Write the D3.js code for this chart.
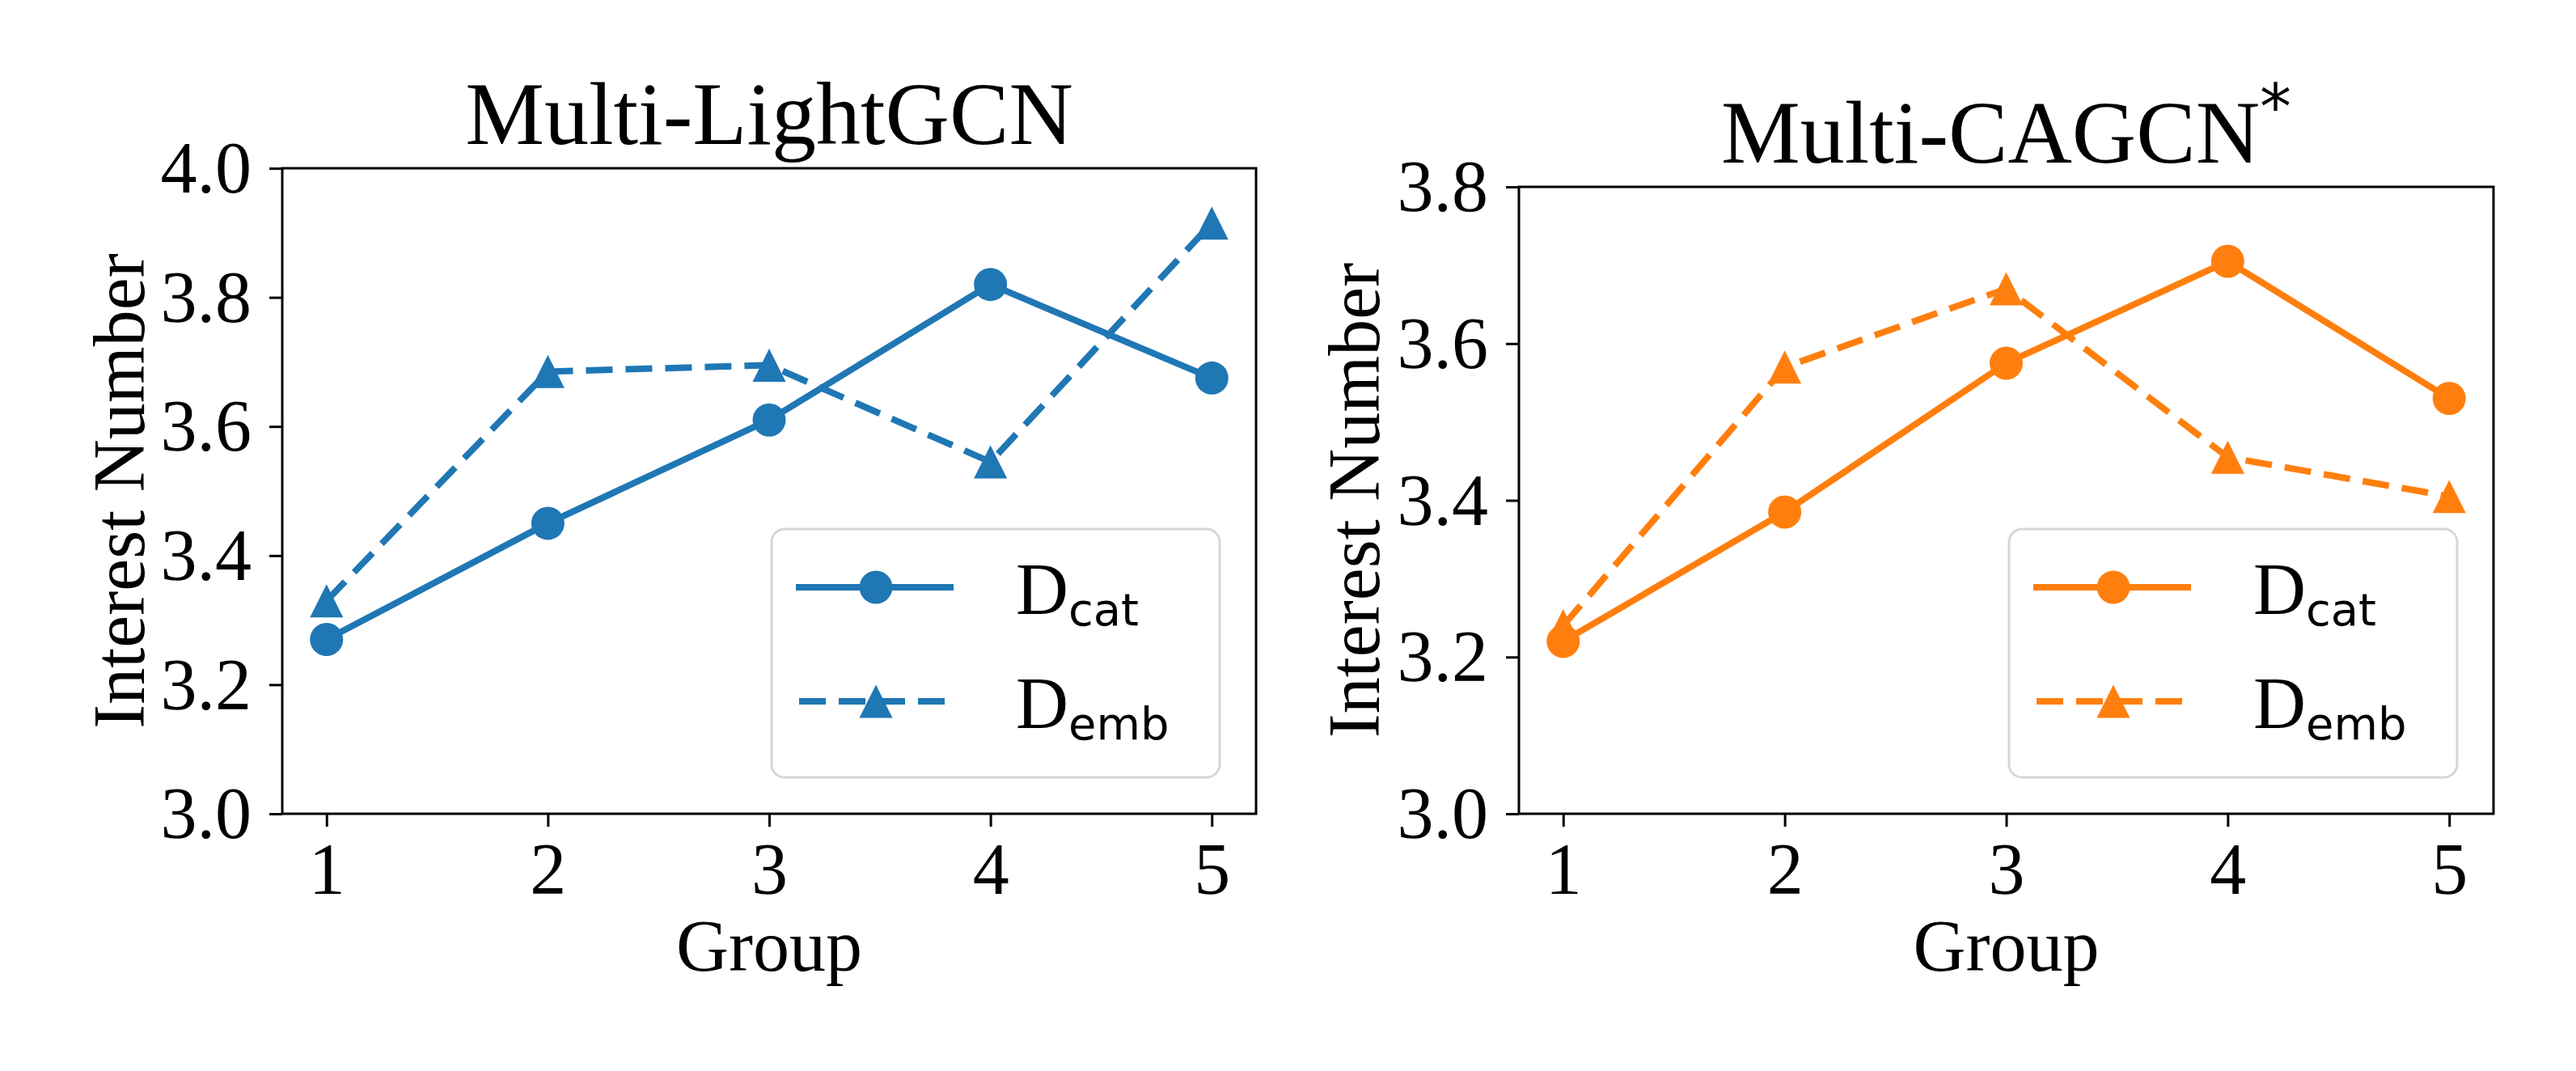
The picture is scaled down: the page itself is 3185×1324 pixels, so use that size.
<!DOCTYPE html>
<html>
<head>
<meta charset="utf-8">
<script src="https://cdn.jsdelivr.net/npm/d3@7"></script>
<style>
  html, body { margin: 0; padding: 0; background: #fff; }
  svg { display: block; }
</style>
</head>
<body>
<svg id="chart" width="3185" height="1324"></svg>
<script>
// Data
// ----
var groups = [1, 2, 3, 4, 5];
var lightgcnCat = [3.27, 3.45, 3.61, 3.82, 3.675];
var lightgcnEmb = [3.33, 3.685, 3.695, 3.545, 3.915];
var cagcnCat = [3.22, 3.385, 3.575, 3.705, 3.53];
var cagcnEmb = [3.24, 3.57, 3.67, 3.455, 3.405];
var lightgcnTicks = [3.0, 3.2, 3.4, 3.6, 3.8, 4.0];
var cagcnTicks = [3.0, 3.2, 3.4, 3.6, 3.8];

var serif = '"Liberation Serif", "Times New Roman", serif';
var sans = '"DejaVu Sans", sans-serif';
var dash = '33,16';

var svg = d3.select('#chart');

// one panel per model
function panel(opts) {
  var x = d3.scaleLinear().domain([0.8, 5.2]).range([opts.left, opts.right]);
  var y = d3.scaleLinear().domain(opts.yDomain).range([opts.bottom, opts.top]);
  var g = svg.append('g');

  // axes
  var xAxis = d3.axisBottom(x).tickValues(groups).tickFormat(d3.format('d')).tickSize(16).tickPadding(18);
  var yAxis = d3.axisLeft(y).tickValues(opts.ticks).tickFormat(d3.format('.1f')).tickSize(16).tickPadding(22);

  var gx = g.append('g').attr('transform', 'translate(0,' + opts.bottom + ')').call(xAxis);
  var gy = g.append('g').attr('transform', 'translate(' + opts.left + ',0)').call(yAxis);
  [gx, gy].forEach(function (a) {
    a.select('.domain').remove();
    a.selectAll('.tick line').attr('stroke', '#000').attr('stroke-width', 3);
    a.selectAll('.tick text')
     .attr('font-family', serif)
     .attr('font-size', '90px')
     .attr('fill', '#000');
  });
  gy.selectAll('.tick text').attr('dy', '0.33em');
  gx.selectAll('.tick text').attr('dy', '0.72em');

  // lines + markers
  var line = d3.line().x(function (d, i) { return x(groups[i]); }).y(function (d) { return y(d); });
  var tri = function (r) { return 'M0,' + (-r) + 'L' + (-r) + ',' + r + 'L' + r + ',' + r + 'Z'; };

  g.append('path').datum(opts.cat).attr('d', line)
   .attr('fill', 'none').attr('stroke', opts.color).attr('stroke-width', 8).attr('stroke-linejoin', 'round');
  g.selectAll('circle.cat').data(opts.cat).enter().append('circle')
   .attr('cx', function (d, i) { return x(groups[i]); })
   .attr('cy', function (d) { return y(d); })
   .attr('r', 20.5).attr('fill', opts.color);

  g.append('path').datum(opts.emb).attr('d', line)
   .attr('fill', 'none').attr('stroke', opts.color).attr('stroke-width', 8)
   .attr('stroke-dasharray', dash);
  g.selectAll('path.emb').data(opts.emb).enter().append('path')
   .attr('class', 'emb')
   .attr('transform', function (d, i) { return 'translate(' + x(groups[i]) + ',' + y(d) + ')'; })
   .attr('d', tri(20.5)).attr('fill', opts.color);

  // frame
  g.append('rect')
   .attr('x', opts.left).attr('y', opts.top)
   .attr('width', opts.right - opts.left).attr('height', opts.bottom - opts.top)
   .attr('fill', 'none').attr('stroke', '#000').attr('stroke-width', 3);

  // titles
  var title = g.append('text')
   .attr('x', (opts.left + opts.right) / 2).attr('y', opts.top - 30)
   .attr('text-anchor', 'middle')
   .attr('font-family', serif).attr('font-size', '110px');
  title.append('tspan').text(opts.title);
  if (opts.star) {
    title.append('tspan').attr('dy', -42).attr('font-size', '78px').attr('font-family', sans).text('*');
  }

  g.append('text')
   .attr('x', (opts.left + opts.right) / 2).attr('y', 1200)
   .attr('text-anchor', 'middle')
   .attr('font-family', serif).attr('font-size', '90px')
   .text('Group');

  g.append('text')
   .attr('transform', 'translate(' + opts.ylabelX + ',' + (opts.top + opts.bottom) / 2 + ') rotate(-90)')
   .attr('text-anchor', 'middle')
   .attr('font-family', serif).attr('font-size', '90px')
   .text('Interest Number');

  // legend
  var lw = 554, lh = 307;
  var lx = opts.right - 45 - lw, ly = opts.bottom - 45 - lh;
  var lg = g.append('g').attr('transform', 'translate(' + lx + ',' + ly + ')');
  lg.append('rect').attr('width', lw).attr('height', lh).attr('rx', 16)
    .attr('fill', '#fff').attr('fill-opacity', 0.8)
    .attr('stroke', '#d6d6d6').attr('stroke-width', 3);

  var rows = [{ sub: 'cat', dash: null, y: 72 }, { sub: 'emb', dash: dash, y: 213 }];
  rows.forEach(function (row) {
    var l = lg.append('line').attr('x1', 30).attr('x2', 225).attr('y1', row.y).attr('y2', row.y)
      .attr('stroke', opts.color).attr('stroke-width', 8);
    if (row.dash) {
      l.attr('stroke-dasharray', row.dash).attr('x1', 34).attr('x2', 216);
      lg.append('path').attr('transform', 'translate(129,' + row.y + ')').attr('d', tri(20.5)).attr('fill', opts.color);
    } else {
      lg.append('circle').attr('cx', 129).attr('cy', row.y).attr('r', 20.5).attr('fill', opts.color);
    }
    var t = lg.append('text').attr('x', 302).attr('y', row.y + 33)
      .attr('font-family', serif).attr('font-size', '90px');
    t.append('tspan').text('D');
    t.append('tspan').attr('dy', 14).attr('font-family', sans).attr('font-size', '56px').text(row.sub);
  });
}

panel({
  left: 349, right: 1553, top: 208, bottom: 1006,
  yDomain: [3.0, 4.0], ticks: lightgcnTicks,
  cat: lightgcnCat, emb: lightgcnEmb, color: '#1f77b4',
  title: 'Multi-LightGCN', star: false, ylabelX: 178
});

panel({
  left: 1878, right: 3083, top: 231, bottom: 1006,
  yDomain: [3.0, 3.8], ticks: cagcnTicks,
  cat: cagcnCat, emb: cagcnEmb, color: '#ff7f0e',
  title: 'Multi-CAGCN', star: true, ylabelX: 1705
});
</script>
</body>
</html>
